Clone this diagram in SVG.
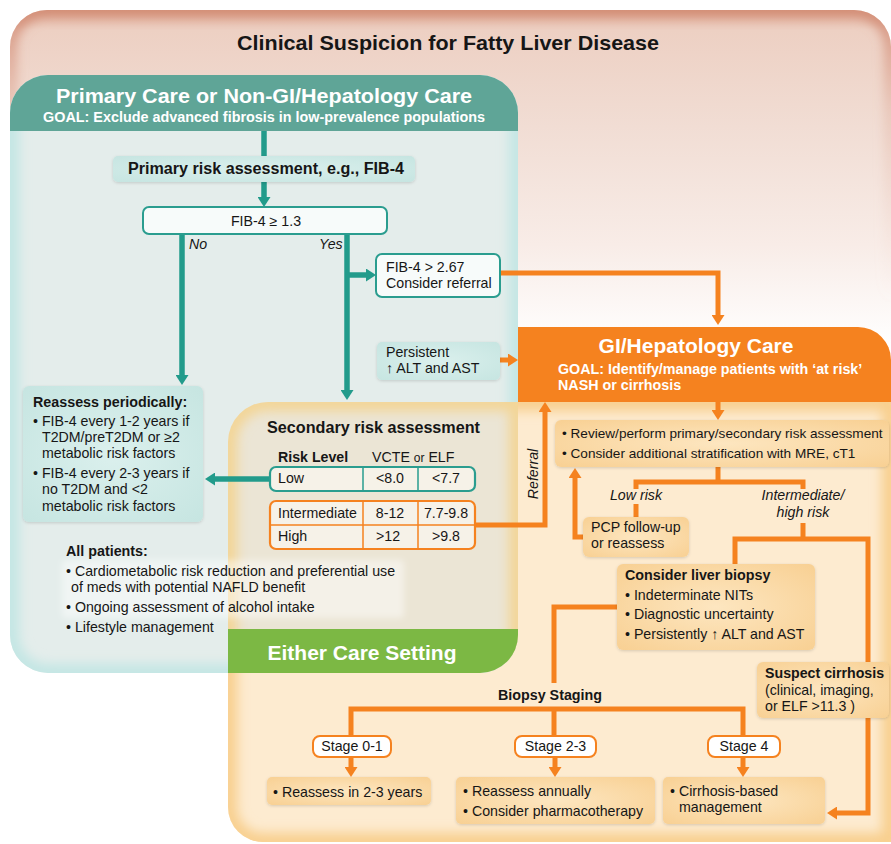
<svg xmlns="http://www.w3.org/2000/svg" width="891" height="844" viewBox="0 0 891 844">
<style>
.t{font-family:"Liberation Sans",Arial,Helvetica,sans-serif;fill:#161616;font-size:14.2px}
.b{font-weight:bold}
.i{font-style:italic}
.w{fill:#ffffff}
.m{text-anchor:middle}
.f21{font-size:21px}
.f16{font-size:16px}
.f143{font-size:14.3px}
.f136{font-size:13.6px}
.ct{fill:none;stroke:#229b8b;stroke-width:5.5;stroke-linejoin:miter}
.co{fill:none;stroke:#f5821f;stroke-width:5;stroke-linejoin:miter}
.bt{fill:url(#tealBox)}
.bo{fill:url(#orBox)}
.bw{fill:#f7fbfa;stroke:#2a9d8f;stroke-width:2}
.tab{fill:#f6f2e8;stroke-width:2.2}
.sg{fill:#ffffff;stroke:#f5821f;stroke-width:2}
</style>
<defs>
<linearGradient id="pinkFill" gradientUnits="userSpaceOnUse" x1="0" y1="10" x2="0" y2="345">
<stop offset="0" stop-color="#e2b09c"/>
<stop offset="0.06" stop-color="#edd0c3"/>
<stop offset="0.35" stop-color="#f1ddd4"/>
<stop offset="0.7" stop-color="#f8ece7"/>
<stop offset="1" stop-color="#ffffff"/>
</linearGradient>
<linearGradient id="pinkEdge" gradientUnits="userSpaceOnUse" x1="0" y1="10" x2="0" y2="300">
<stop offset="0" stop-color="#cf846c" stop-opacity="1"/>
<stop offset="0.35" stop-color="#dba08c" stop-opacity="0.4"/>
<stop offset="1" stop-color="#e8c4b6" stop-opacity="0"/>
</linearGradient>
<radialGradient id="tealBox" cx="0.5" cy="0.5" r="0.7">
<stop offset="0" stop-color="#dbf0ed"/>
<stop offset="1" stop-color="#c6e5e1"/>
</radialGradient>
<radialGradient id="orBox" cx="0.5" cy="0.5" r="0.7">
<stop offset="0" stop-color="#fde6c0"/>
<stop offset="1" stop-color="#f8d093"/>
</radialGradient>
<filter id="blur" x="-10%" y="-10%" width="120%" height="120%"><feGaussianBlur stdDeviation="6"/></filter>
<filter id="soft" x="-10%" y="-20%" width="120%" height="140%"><feGaussianBlur stdDeviation="3"/></filter>
<filter id="sh" x="-10%" y="-20%" width="120%" height="140%"><feDropShadow dx="0" dy="1" stdDeviation="1.5" flood-color="#000" flood-opacity="0.15"/></filter>
<clipPath id="pinkClip"><path d="M10,47 A37,37 0 0 1 47,10 H854 A37,37 0 0 1 891,47 V844 H10 Z"/></clipPath>
<clipPath id="tealClip"><path d="M10,113 A38,38 0 0 1 48,75 H480 A38,38 0 0 1 518,113 V635 A38,38 0 0 1 480,673 H48 A38,38 0 0 1 10,635 Z"/></clipPath>
<clipPath id="orClip"><path d="M228,442 A40,40 0 0 1 268,402 H891 V842 H263 A35,35 0 0 1 228,807 Z"/></clipPath>
<clipPath id="ovClip"><path d="M228,442 A40,40 0 0 1 268,402 H518 V635 A38,38 0 0 1 480,673 H228 Z"/></clipPath>
<marker id="at" viewBox="0 0 10 13" refX="2" refY="6.5" markerWidth="10" markerHeight="13" markerUnits="userSpaceOnUse" orient="auto"><path d="M0,0 L10,6.5 L0,13 Z" fill="#229b8b"/></marker>
<marker id="ao" viewBox="0 0 10 13" refX="2" refY="6.5" markerWidth="10" markerHeight="13" markerUnits="userSpaceOnUse" orient="auto"><path d="M0,0 L10,6.5 L0,13 Z" fill="#f5821f"/></marker>
</defs>

<g id="background">
<rect width="891" height="844" fill="#ffffff"/>
<path d="M10,47 A37,37 0 0 1 47,10 H854 A37,37 0 0 1 891,47 V844 H10 Z" fill="url(#pinkFill)"/>
<g clip-path="url(#pinkClip)"><path d="M10,47 A37,37 0 0 1 47,10 H854 A37,37 0 0 1 891,47 V844 H10 Z" fill="none" stroke="url(#pinkEdge)" stroke-width="12" filter="url(#blur)"/></g>
</g>

<g id="regions">
<g id="gi-region">
<path d="M228,442 A40,40 0 0 1 268,402 H891 V842 H263 A35,35 0 0 1 228,807 Z" fill="#fdebd0"/>
<g clip-path="url(#orClip)"><path d="M228,442 A40,40 0 0 1 268,402 H891 V842 H263 A35,35 0 0 1 228,807 Z" fill="none" stroke="#f8cf8e" stroke-width="18" filter="url(#blur)"/></g>
</g>
<g id="primary-region">
<path d="M10,113 A38,38 0 0 1 48,75 H480 A38,38 0 0 1 518,113 V635 A38,38 0 0 1 480,673 H48 A38,38 0 0 1 10,635 Z" fill="#e4edeb"/>
<g clip-path="url(#tealClip)"><path d="M10,113 A38,38 0 0 1 48,75 H480 A38,38 0 0 1 518,113 V635 A38,38 0 0 1 480,673 H48 A38,38 0 0 1 10,635 Z" fill="none" stroke="#c3e6e4" stroke-width="18" filter="url(#blur)"/>
<rect x="10" y="75" width="508" height="56" fill="#5fa597"/></g>
<text class="t b w m f21" x="264" y="103" textLength="416" lengthAdjust="spacingAndGlyphs">Primary Care or Non-GI/Hepatology Care</text>
<text class="t b w m f143" x="264" y="122" textLength="442" lengthAdjust="spacingAndGlyphs">GOAL: Exclude advanced fibrosis in low-prevalence populations</text>
</g>
<g id="either-region">
<path d="M228,442 A40,40 0 0 1 268,402 H518 V635 A38,38 0 0 1 480,673 H228 Z" fill="#ebe5d5"/>
<g clip-path="url(#ovClip)"><path d="M228,442 A40,40 0 0 1 268,402 H518 V700 H228 Z" fill="none" stroke="#f3d596" stroke-width="18" filter="url(#blur)"/>
<path d="M228,629 H518 V673 H228 Z" fill="#7cb844"/></g>
<text class="t b w m f21" x="362" y="660">Either Care Setting</text>
</g>
<g id="gi-header">
<path d="M518,327 H858 A33,33 0 0 1 891,360 V402 H518 Z" fill="#f5821f"/>
<text class="t b w m f21" x="696" y="353">GI/Hepatology Care</text>
<text class="t b w f143" x="558" y="374">GOAL: Identify/manage patients with ‘at risk’</text>
<text class="t b w f143" x="558" y="390">NASH or cirrhosis</text>
</g>
<rect x="62" y="560" width="342" height="58" rx="4" fill="#ffffff" fill-opacity="0.45" filter="url(#soft)"/>
</g>

<g id="title">
<text class="t b m f21" x="448" y="50" textLength="422" lengthAdjust="spacingAndGlyphs">Clinical Suspicion for Fatty Liver Disease</text>
</g>

<g id="connectors">
<path class="ct" d="M264,131 V156"/>
<path class="ct" d="M264,182 V199" marker-end="url(#at)"/>
<path class="ct" d="M182,234 V377" marker-end="url(#at)"/>
<path class="ct" d="M347,234 V392" marker-end="url(#at)"/>
<path class="ct" d="M347,275 H368" marker-end="url(#at)"/>
<path class="ct" d="M271,479 H213" marker-end="url(#at)"/>
<path class="co" d="M500,273 H718 V317" marker-end="url(#ao)"/>
<path class="co" d="M500,360 H510" marker-end="url(#ao)"/>
<path class="co" d="M718,402 V412" marker-end="url(#ao)"/>
<path class="co" d="M474,525 H545 V410" marker-end="url(#ao)"/>
<path class="co" d="M718,467 V482"/>
<path class="co" d="M636,489 V482 H803 V489"/>
<path class="co" d="M636,504 V517"/>
<path class="co" d="M583,537 H575 V476" marker-end="url(#ao)"/>
<path class="co" d="M803,523 V539"/>
<path class="co" d="M735,564 V539 H868 V662"/>
<path class="co" d="M617,607 H554 V683"/>
<path class="co" d="M351,736 V709 H743 V736"/>
<path class="co" d="M554,709 V736"/>
<path class="co" d="M351,756 V769" marker-end="url(#ao)"/>
<path class="co" d="M555,756 V769" marker-end="url(#ao)"/>
<path class="co" d="M743,756 V769" marker-end="url(#ao)"/>
<path class="co" d="M868,718 V813 H835" marker-end="url(#ao)"/>
<text class="t i" x="189" y="249">No</text>
<text class="t i" x="319" y="249">Yes</text>
<text class="t i" transform="translate(538,474) rotate(-90)" text-anchor="middle">Referral</text>
<text class="t i m" x="636" y="500">Low risk</text>
<text class="t i m" x="803" y="500">Intermediate/</text>
<text class="t i m" x="803" y="517">high risk</text>
<text class="t b m f143" x="550" y="700">Biopsy Staging</text>
</g>

<g id="primary-risk">
<rect class="bt" x="113" y="156" width="302" height="26" rx="5" filter="url(#sh)"/>
<text class="t b m f16" x="266" y="174" textLength="276" lengthAdjust="spacingAndGlyphs">Primary risk assessment, e.g., FIB-4</text>
</g>
<g id="fib4-13">
<rect class="bw" x="143" y="207" width="244" height="27" rx="6"/>
<text class="t m" x="266" y="226">FIB-4 ≥ 1.3</text>
</g>
<g id="fib4-267">
<rect class="bw" x="376" y="254" width="124" height="43" rx="6"/>
<text class="t" x="386" y="272">FIB-4 &gt; 2.67</text>
<text class="t" x="386" y="288">Consider referral</text>
</g>
<g id="persistent">
<rect class="bt" x="377" y="342" width="123" height="38" rx="5" filter="url(#sh)"/>
<text class="t" x="386" y="357">Persistent</text>
<text class="t" x="386" y="373">↑ ALT and AST</text>
</g>
<g id="reassess-periodically">
<rect class="bt" x="23" y="386" width="180" height="136" rx="6" filter="url(#sh)"/>
<text class="t b f143" x="33" y="407">Reassess periodically:</text>
<text class="t" x="33" y="426">• FIB-4 every 1-2 years if</text>
<text class="t" x="42" y="442">T2DM/preT2DM or ≥2</text>
<text class="t" x="42" y="458">metabolic risk factors</text>
<text class="t" x="33" y="478">• FIB-4 every 2-3 years if</text>
<text class="t" x="42" y="494">no T2DM and &lt;2</text>
<text class="t" x="42" y="511">metabolic risk factors</text>
</g>
<g id="secondary-risk">
<text class="t b f16" x="267" y="433" textLength="213" lengthAdjust="spacingAndGlyphs">Secondary risk assessment</text>
<text class="t b" x="278" y="462">Risk Level</text>
<text class="t" x="372" y="462">VCTE <tspan style="font-size:12px">or</tspan> ELF</text>
<rect class="tab" x="270" y="467" width="205" height="24" rx="6" stroke="#2a9d8f"/>
<path d="M363,467 V491 M418,467 V491" stroke="#2a9d8f" stroke-width="1.5"/>
<text class="t" x="278" y="483">Low</text>
<text class="t m" x="390" y="483">&lt;8.0</text>
<text class="t m" x="446" y="483">&lt;7.7</text>
<rect class="tab" x="270" y="501" width="205" height="48" rx="6" stroke="#f5821f"/>
<path d="M363,501 V549 M418,501 V549 M270,525 H475" stroke="#f5821f" stroke-width="1.5"/>
<text class="t" x="278" y="518">Intermediate</text>
<text class="t m" x="390" y="518">8-12</text>
<text class="t m" x="446" y="518">7.7-9.8</text>
<text class="t" x="278" y="541">High</text>
<text class="t m" x="388" y="541">&gt;12</text>
<text class="t m" x="446" y="541">&gt;9.8</text>
</g>
<g id="all-patients">
<text class="t b f143" x="66" y="556">All patients:</text>
<text class="t" x="66" y="576">• Cardiometabolic risk reduction and preferential use</text>
<text class="t" x="71" y="592">of meds with potential NAFLD benefit</text>
<text class="t" x="66" y="612">• Ongoing assessment of alcohol intake</text>
<text class="t" x="66" y="632">• Lifestyle management</text>
</g>
<g id="review">
<rect class="bo" x="555" y="420" width="334" height="47" rx="6" filter="url(#sh)"/>
<text class="t f136" x="562" y="438">• Review/perform primary/secondary risk assessment</text>
<text class="t f136" x="562" y="458">• Consider additional stratification with MRE, cT1</text>
</g>
<g id="pcp">
<rect class="bo" x="583" y="517" width="106" height="40" rx="6" filter="url(#sh)"/>
<text class="t" x="591" y="532">PCP follow-up</text>
<text class="t" x="591" y="548">or reassess</text>
</g>
<g id="biopsy">
<rect class="bo" x="617" y="564" width="198" height="86" rx="6" filter="url(#sh)"/>
<text class="t b f143" x="625" y="580">Consider liver biopsy</text>
<text class="t" x="625" y="600">• Indeterminate NITs</text>
<text class="t" x="625" y="619">• Diagnostic uncertainty</text>
<text class="t" x="625" y="639">• Persistently ↑ ALT and AST</text>
</g>
<g id="suspect-cirrhosis">
<rect class="bo" x="757" y="662" width="132" height="56" rx="6" filter="url(#sh)"/>
<text class="t b" x="765" y="678">Suspect cirrhosis</text>
<text class="t" x="765" y="695">(clinical, imaging,</text>
<text class="t" x="765" y="711">or ELF &gt;11.3 )</text>
</g>
<g id="stage01">
<rect class="sg" x="313" y="736" width="78" height="21" rx="7"/>
<text class="t m" x="352" y="751">Stage 0-1</text>
</g>
<g id="stage23">
<rect class="sg" x="515" y="736" width="81" height="21" rx="7"/>
<text class="t m" x="555.5" y="751">Stage 2-3</text>
</g>
<g id="stage4">
<rect class="sg" x="708" y="736" width="72" height="21" rx="7"/>
<text class="t m" x="744" y="751">Stage 4</text>
</g>
<g id="result01">
<rect class="bo" x="267" y="777" width="164" height="28" rx="5" filter="url(#sh)"/>
<text class="t" x="273" y="797">• Reassess in 2-3 years</text>
</g>
<g id="result23">
<rect class="bo" x="456" y="777" width="199" height="47" rx="5" filter="url(#sh)"/>
<text class="t" x="463" y="796">• Reassess annually</text>
<text class="t" x="463" y="816">• Consider pharmacotherapy</text>
</g>
<g id="result4">
<rect class="bo" x="663" y="777" width="162" height="47" rx="5" filter="url(#sh)"/>
<text class="t" x="670" y="796">• Cirrhosis-based</text>
<text class="t" x="679" y="812">management</text>
</g>
</svg>
